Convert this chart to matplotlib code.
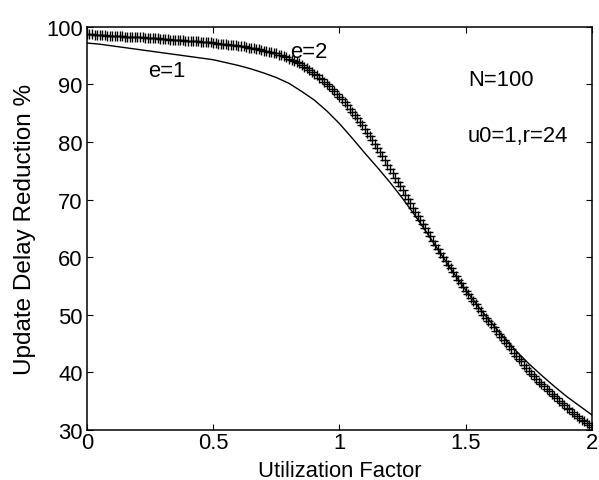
import numpy as np
import matplotlib
matplotlib.use("Agg")
import matplotlib.pyplot as plt

plt.rcParams['font.family'] = ['Liberation Sans', 'DejaVu Sans']

# e=2 series (markers), x step 0.01 from 0 to 2
x_e2 = np.round(np.arange(0, 201) * 0.01, 2)
y_e2 = [
    98.7, 98.7, 98.7, 98.6, 98.6, 98.6, 98.6, 98.6, 98.5, 98.5, 98.5,
    98.5, 98.4, 98.4, 98.4, 98.3, 98.3, 98.3, 98.3, 98.2, 98.2,
    98.2, 98.2, 98.1, 98.1, 98.1, 98.0, 98.0, 98.0, 97.9, 97.9,
    97.9, 97.9, 97.8, 97.8, 97.8, 97.7, 97.7, 97.7, 97.6, 97.6,
    97.6, 97.5, 97.5, 97.5, 97.4, 97.4, 97.3, 97.3, 97.3, 97.2,
    97.2, 97.1, 97.1, 97.0, 97.0, 96.9, 96.9, 96.8, 96.8, 96.7,
    96.6, 96.6, 96.5, 96.4, 96.3, 96.3, 96.2, 96.1, 96.0, 95.9,
    95.8, 95.7, 95.6, 95.5, 95.4, 95.2, 95.1, 94.9, 94.7, 94.5,
    94.3, 94.1, 93.9, 93.7, 93.4, 93.1, 92.8, 92.5, 92.2, 91.9,
    91.6, 91.2, 90.9, 90.5, 90.1, 89.7, 89.3, 88.8, 88.4, 87.9,
    87.4, 86.9, 86.4, 85.8, 85.3, 84.7, 84.1, 83.5, 82.9, 82.3,
    81.6, 81.0, 80.3, 79.6, 78.9, 78.2, 77.5, 76.8, 76.0, 75.3,
    74.6, 73.8, 73.1, 72.3, 71.6, 70.8, 70.1, 69.4, 68.6, 67.9,
    67.2, 66.5, 65.7, 65.0, 64.3, 63.6, 62.9, 62.2, 61.5, 60.8,
    60.1, 59.4, 58.7, 58.1, 57.4, 56.8, 56.1, 55.5, 54.8, 54.2,
    53.6, 53.0, 52.4, 51.8, 51.2, 50.6, 50.0, 49.5, 48.9, 48.4,
    47.8, 47.2, 46.7, 46.1, 45.6, 45.1, 44.5, 44.0, 43.4, 42.9,
    42.4, 41.9, 41.3, 40.8, 40.3, 39.8, 39.4, 38.9, 38.4, 38.0,
    37.6, 37.2, 36.8, 36.3, 35.9, 35.5, 35.1, 34.7, 34.3, 33.9,
    33.6, 33.2, 32.8, 32.5, 32.1, 31.8, 31.5, 31.2, 30.9, 30.6,
]

# e=1 series (solid line), x step 0.05
x_e1 = np.round(np.arange(0, 41) * 0.05, 2)
y_e1 = [
    97.2, 97.0, 96.7, 96.4, 96.1, 95.8, 95.5, 95.2, 94.9, 94.6,
    94.3, 93.8, 93.3, 92.7, 92.0, 91.2, 90.2, 88.8, 87.3, 85.4,
    83.2, 80.7, 78.1, 75.6, 73.0, 70.2, 67.2, 64.0, 60.7, 57.4,
    54.3, 51.4, 48.7, 46.1, 43.7, 41.5, 39.5, 37.6, 35.8, 34.2,
    32.6,
]

x_ticks = [0, 0.5, 1, 1.5, 2]
x_tick_labels = ['0', '0.5', '1', '1.5', '2']
y_ticks = [30, 40, 50, 60, 70, 80, 90, 100]

fig = plt.figure(figsize=(5.99, 4.81), dpi=100)
ax = fig.add_axes([0.1452, 0.104, 0.8431, 0.838])

ax.plot(x_e1, y_e1, color='black', linewidth=1.0)
ax.plot(x_e2, y_e2, linestyle='none', marker='+', markersize=7.5,
        markeredgewidth=1.0, color='black')

ax.set_xlim(0, 2)
ax.set_ylim(30, 100)
ax.set_xticks(x_ticks)
ax.set_xticklabels(x_tick_labels)
ax.set_yticks(y_ticks)
ax.tick_params(direction='in', top=True, right=True, length=4, width=0.8,
               labelsize=15.8)
ax.tick_params(axis='x', pad=1.5)
ax.tick_params(axis='y', pad=3)
for s in ax.spines.values():
    s.set_linewidth(1.1)

ax.set_xlabel('Utilization Factor', fontsize=15.8, labelpad=5)
ax.set_ylabel('Update Delay Reduction %', fontsize=17.5, labelpad=7)

ax.text(0.317, 92.4, 'e=1', fontsize=15.8, ha='center', va='center')
ax.text(0.88, 95.7, 'e=2', fontsize=15.8, ha='center', va='center')
ax.text(1.509, 90.8, 'N=100', fontsize=15.8, ha='left', va='center')
ax.text(1.509, 81.1, 'u0=1,r=24', fontsize=15.8, ha='left', va='center')

fig.savefig('out.png', dpi=100)
